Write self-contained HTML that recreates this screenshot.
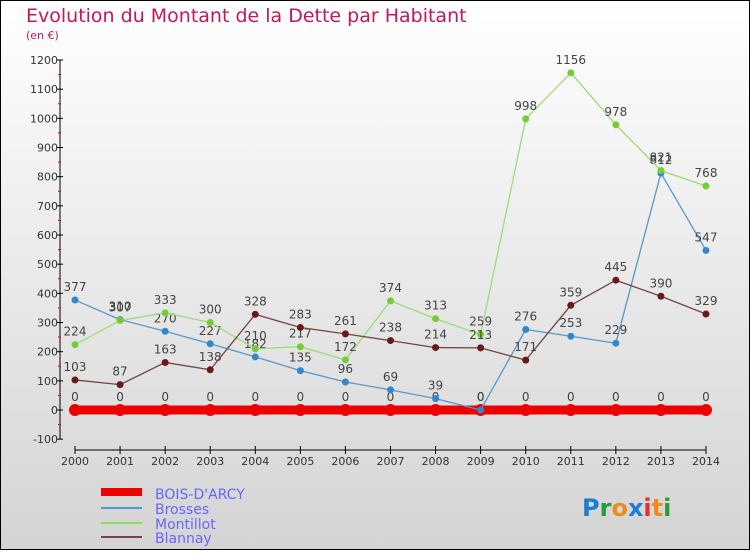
<!DOCTYPE html>
<html><head><meta charset="utf-8"><style>
html,body{margin:0;padding:0}
body{width:750px;height:550px;overflow:hidden;font-family:"DejaVu Sans","Liberation Sans",sans-serif}
</style></head><body>
<svg id="chart" width="750" height="550" xmlns="http://www.w3.org/2000/svg">
<defs><linearGradient id="bg" x1="0" y1="0" x2="0" y2="1"><stop offset="0" stop-color="#ffffff"/><stop offset="1" stop-color="#d4d4d4"/></linearGradient></defs>
<rect x="0.5" y="0.5" width="749" height="549" fill="url(#bg)" stroke="#000"/>
<text x="26" y="22" font-size="19" fill="#c2185b">Evolution du Montant de la Dette par Habitant</text>
<text x="26" y="39" font-size="11" fill="#c2185b">(en €)</text>
<g id="axes"></g><g id="series"></g>
<g>
<rect x="101" y="488" width="41" height="8" fill="#e00"/>
<text x="155" y="499" font-size="14" fill="#6666ff">BOIS-D'ARCY</text>
<line x1="101" y1="508" x2="142" y2="508" stroke="#5599cc" stroke-width="2"/>
<text x="155" y="514" font-size="14" fill="#6666ff">Brosses</text>
<line x1="101" y1="523" x2="142" y2="523" stroke="#88dd55" stroke-width="2"/>
<text x="155" y="529" font-size="14" fill="#6666ff">Montillot</text>
<line x1="101" y1="537" x2="142" y2="537" stroke="#774444" stroke-width="2"/>
<text x="155" y="543" font-size="14" fill="#6666ff">Blannay</text>
</g>
<text x="582" y="516" font-size="24" font-weight="bold"><tspan fill="#1a7fd4">P</tspan><tspan fill="#2a9a3a">r</tspan><tspan fill="#f08a1a">o</tspan><tspan fill="#1a7fd4">x</tspan><tspan fill="#e03030">i</tspan><tspan fill="#f08a1a">t</tspan><tspan fill="#2a9a3a">i</tspan></text>
</svg>
<script>
const years=[2000,2001,2002,2003,2004,2005,2006,2007,2008,2009,2010,2011,2012,2013,2014];
const boisDarcy=[0,0,0,0,0,0,0,0,0,0,0,0,0,0,0];
const brosses=[377,310,270,227,182,135,96,69,39,0,276,253,229,812,547];
const montillot=[224,307,333,300,210,217,172,374,313,259,998,1156,978,821,768];
const blannay=[103,87,163,138,328,283,261,238,214,213,171,359,445,390,329];
const yTicks=[-100,0,100,200,300,400,500,600,700,800,900,1000,1100,1200];
const NS="http://www.w3.org/2000/svg";
const xs=i=>75+i*(706-75)/14;
const ys=v=>410-v*350/1200;
function mk(tag,attrs,parent){const e=document.createElementNS(NS,tag);for(const k in attrs)e.setAttribute(k,attrs[k]);parent.appendChild(e);return e;}
const ax=document.getElementById('axes');
let l=mk('line',{x1:60,y1:ys(1200),x2:60,y2:ys(-100),stroke:'#000'},ax);


yTicks.forEach(v=>{
  let t=mk('line',{x1:57,x2:63,y1:ys(v),y2:ys(v),stroke:'#000'},ax);
  
  
  let m=mk('line',{x1:58,x2:61,y1:ys(v+50),y2:ys(v+50),stroke:'#e00'},ax);
  if(v===1200)m.remove();
  let tx=mk('text',{x:58,y:ys(v)+4,'font-size':11,'text-anchor':'end',fill:'#333'},ax);
  tx.textContent=v;
  
  
});
l=mk('line',{x1:75,y1:450,x2:706,y2:450,stroke:'#000'},ax);


years.forEach((y,i)=>{
  let t=mk('line',{x1:xs(i),x2:xs(i),y1:446,y2:454,stroke:'#000'},ax);
  
  
  let tx=mk('text',{x:xs(i),y:465,'font-size':11,'text-anchor':'middle',fill:'#333'},ax);
  tx.textContent=y;
  
  
});
const sg=document.getElementById('series');
function draw(name,vals,color,w,r,pc){
  const g=mk('g',{},sg);
  
  
  const p=mk('polyline',{points:vals.map((v,i)=>xs(i)+','+ys(v)).join(' '),fill:'none',stroke:color,'stroke-width':w},g);
  
  
  vals.forEach((v,i)=>{
    const c=mk('circle',{cx:xs(i),cy:ys(v),r:r,fill:pc,stroke:'none'},g);
    
    
    const t=mk('text',{x:xs(i),y:ys(v)-9,'font-size':12,'text-anchor':'middle',fill:'#444'},g);
    t.textContent=v;
    
    
  });
}
draw('bois-darcy',boisDarcy,'#e00',9,6,'#e00');
draw('brosses',brosses,'#5599cc',1.3,3.5,'#3388cc');
draw('montillot',montillot,'#99dd77',1.3,3.5,'#77cc33');
draw('blannay',blannay,'#774444',1.3,3.5,'#661a1a');
</script>
</body></html>
